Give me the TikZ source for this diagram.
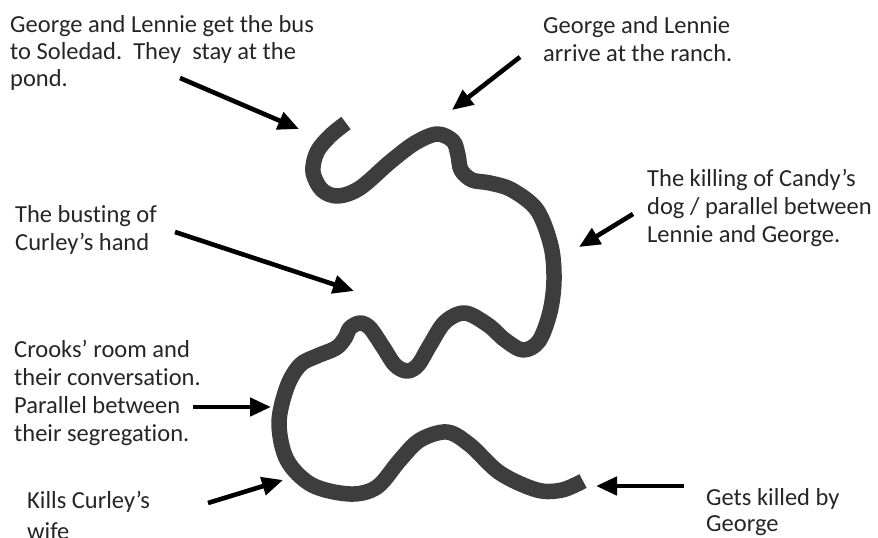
\documentclass[tikz,border=0pt]{standalone}
\usepackage{fontspec}
\setmainfont{Carlito}[Ligatures=CommonOff]
\usetikzlibrary{arrows.meta}
\definecolor{curvegray}{HTML}{3D3D3D}
\begin{document}
\begin{tikzpicture}[x=1pt,y=-1pt,
  lbl/.style={anchor=base west,inner sep=0pt,align=left,font=\fontsize{24.5}{28}\selectfont,text=black!85},
  pointer/.style={line width=4.6pt,-{Triangle[length=21pt,width=18pt]},black},
  story/.style={line width=15.5pt,curvegray,line join=round,line cap=butt}]
\useasboundingbox (0,0) rectangle (878,538);
\clip (0,0) rectangle (878,538);
\fill[white] (0,0) rectangle (878,538);

% the story line
\draw[story] plot[smooth,tension=0.55] coordinates {
 (346,123) (330,136) (317,152) (313,172) (322,190) (338,196) (360,188)
 (390,162) (415,143) (437,134) (453,141) (458,155) (461,170) (472,180)
 (490,183) (512,190) (537,210) (551,246) (554,280) (550,312) (539,341)
 (523,350) (505,340) (488,325) (465,313) (445,322) (430,345) (418,365)
 (407,371) (395,365) (383,347) (370,328) (360,323) (350,328) (345,338)
 (336,348) (317,356) (300,365) (287,387) (279,423) (287,460) (312,485)
 (350,494) (377,487) (400,460) (420,440) (447,432) (470,445) (500,473)
 (537,490) (562,490) (583,481)};

% labels (anchor = baseline of the last line)
\node[lbl,font=\fontsize{24.5}{27}\selectfont] (t1) at (10,86) {George and Lennie get the bus\\to Soledad.\ \ They\ \ stay at the\\pond.};
\node[lbl] (t2) at (543,61) {George and Lennie\\arrive at the ranch.};
\node[lbl] (t3) at (647,242) {The killing of Candy’s\\dog / parallel between\\Lennie and George.};
\node[lbl] (t4) at (15,250) {The busting of\\Curley’s hand};
\node[lbl] (t5) at (14,441) {Crooks’ room and\\their conversation.\\Parallel between\\their segregation.};
\node[lbl,font=\fontsize{24.5}{31}\selectfont] (t6) at (27,539) {Kills Curley’s\\wife};
\node[lbl,font=\fontsize{24.5}{26}\selectfont] (t7) at (706,531) {Gets killed by\\George};

% arrow ends
\coordinate (s1) at (180,78);  \coordinate (e1) at (299,129);
\coordinate (s2) at (520,57);  \coordinate (e2) at (452,110);
\coordinate (s3) at (633,214); \coordinate (e3) at (579,247);
\coordinate (s4) at (175,232); \coordinate (e4) at (354,291);
\coordinate (s5) at (193,407); \coordinate (e5) at (271,407);
\coordinate (s6) at (208,503); \coordinate (e6) at (283,480);
\coordinate (s7) at (684,486); \coordinate (e7) at (596,486);

\draw[pointer] (s1) -- (e1);
\draw[pointer] (s2) -- (e2);
\draw[pointer] (s3) -- (e3);
\draw[pointer] (s4) -- (e4);
\draw[pointer] (s5) -- (e5);
\draw[pointer] (s6) -- (e6);
\draw[pointer] (s7) -- (e7);
\end{tikzpicture}
\end{document}
